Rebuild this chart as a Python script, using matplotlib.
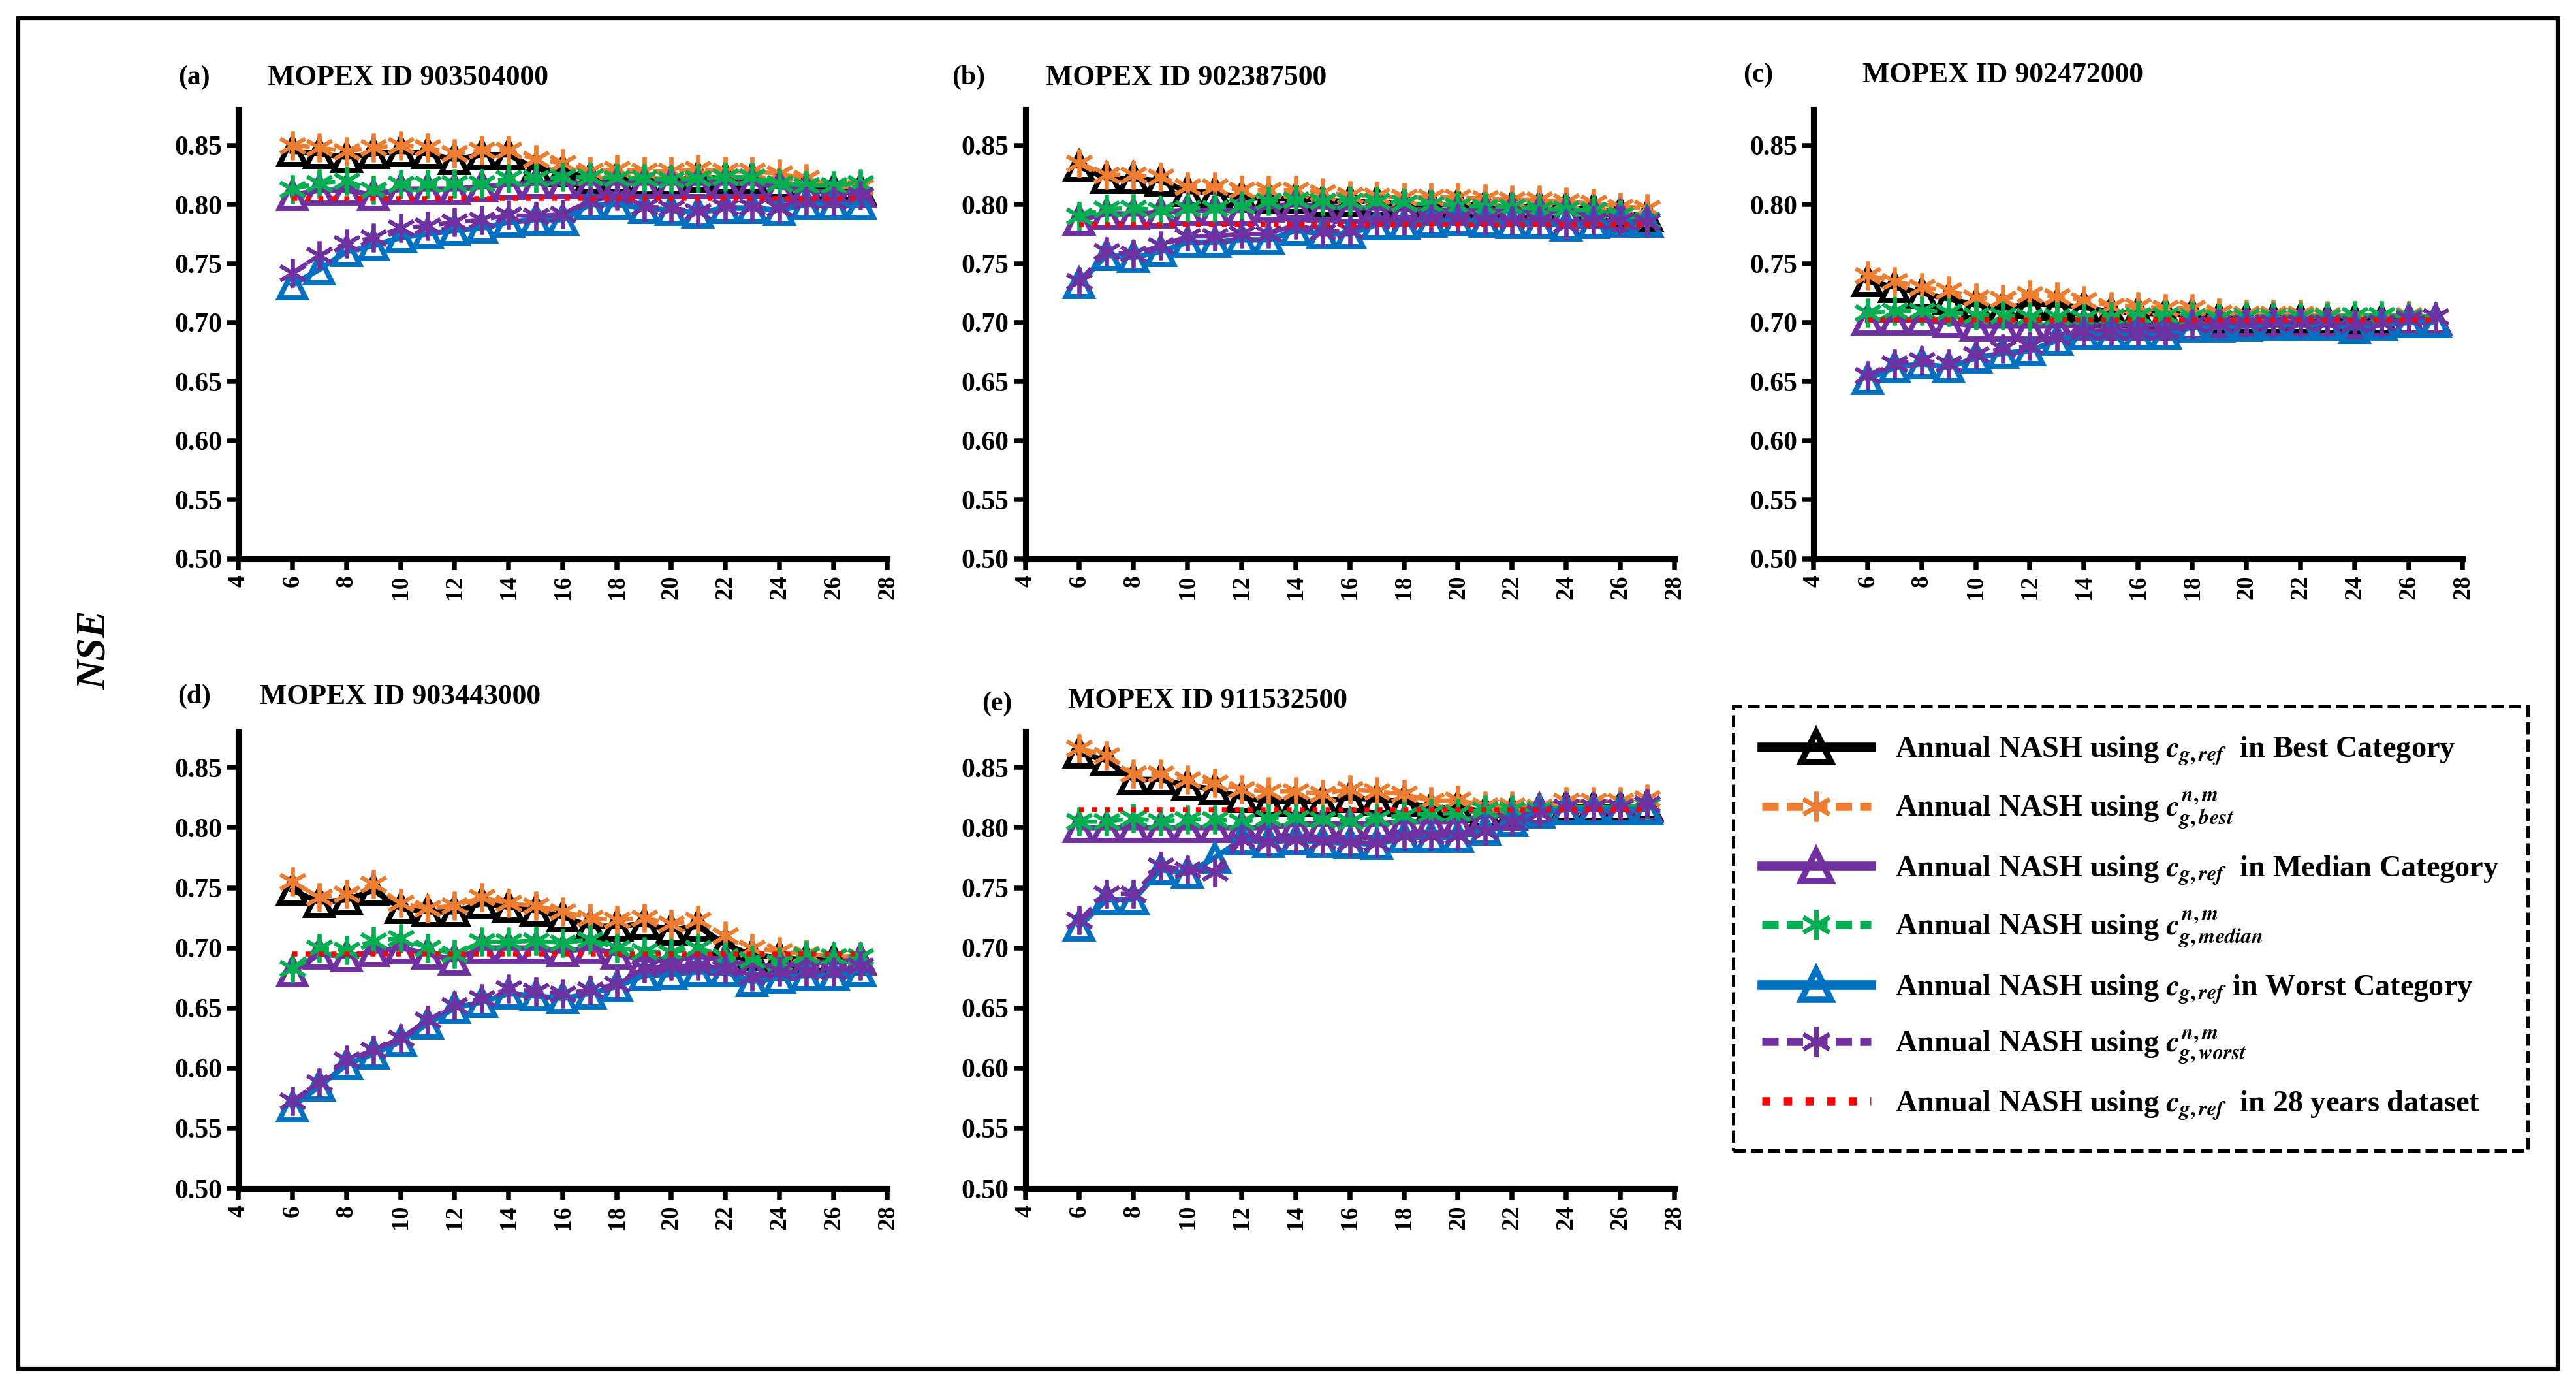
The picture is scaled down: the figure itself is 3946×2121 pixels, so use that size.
"""
Annual NASH (NSE) against number of years used, for five MOPEX catchments.
"""

import matplotlib.pyplot as plt
from matplotlib.lines import Line2D
from matplotlib.patches import Rectangle

plt.rcParams['font.family'] = ['Liberation Serif', 'DejaVu Serif']
plt.rcParams['font.weight'] = 'bold'
plt.rcParams['mathtext.fontset'] = 'stix'

years = list(range(6, 28))

# (a) MOPEX ID 903504000
a_best_ref = [0.845, 0.843, 0.840, 0.843, 0.845, 0.843, 0.838, 0.842, 0.842, 0.830, 0.828,
              0.822, 0.822, 0.820, 0.820, 0.823, 0.822, 0.822, 0.818, 0.815, 0.812, 0.812]
a_best_nm = [0.850, 0.848, 0.845, 0.848, 0.850, 0.848, 0.843, 0.846, 0.846, 0.838, 0.835,
             0.828, 0.830, 0.828, 0.828, 0.830, 0.828, 0.828, 0.826, 0.822, 0.815, 0.815]
a_med_ref = [0.808, 0.812, 0.812, 0.808, 0.813, 0.813, 0.813, 0.815, 0.817, 0.818, 0.818,
             0.818, 0.818, 0.818, 0.818, 0.818, 0.818, 0.818, 0.815, 0.812, 0.810, 0.810]
a_med_nm = [0.813, 0.818, 0.820, 0.812, 0.817, 0.817, 0.818, 0.818, 0.822, 0.822, 0.823,
            0.823, 0.822, 0.822, 0.821, 0.822, 0.823, 0.823, 0.818, 0.816, 0.816, 0.818]
a_worst_ref = [0.732, 0.745, 0.760, 0.765, 0.772, 0.775, 0.778, 0.780, 0.785, 0.787, 0.787,
               0.800, 0.800, 0.797, 0.795, 0.793, 0.797, 0.797, 0.795, 0.800, 0.800, 0.800]
a_worst_nm = [0.742, 0.757, 0.767, 0.772, 0.780, 0.782, 0.785, 0.787, 0.791, 0.790, 0.792,
              0.803, 0.807, 0.798, 0.797, 0.794, 0.798, 0.798, 0.797, 0.803, 0.803, 0.808]
a_full = 0.805

# (b) MOPEX ID 902387500
b_best_ref = [0.832, 0.822, 0.822, 0.820, 0.811, 0.810, 0.806, 0.805, 0.805, 0.803, 0.803,
              0.802, 0.800, 0.800, 0.800, 0.799, 0.798, 0.798, 0.797, 0.796, 0.793, 0.790]
b_best_nm = [0.835, 0.825, 0.825, 0.823, 0.815, 0.815, 0.812, 0.812, 0.812, 0.810, 0.808,
             0.807, 0.806, 0.806, 0.806, 0.805, 0.804, 0.804, 0.802, 0.801, 0.798, 0.797]
b_med_ref = [0.787, 0.792, 0.792, 0.793, 0.795, 0.795, 0.795, 0.798, 0.800, 0.798, 0.797,
             0.797, 0.796, 0.795, 0.795, 0.795, 0.795, 0.794, 0.794, 0.793, 0.790, 0.785]
b_med_nm = [0.790, 0.796, 0.797, 0.795, 0.797, 0.797, 0.799, 0.803, 0.804, 0.803, 0.803,
            0.803, 0.801, 0.800, 0.799, 0.798, 0.798, 0.796, 0.796, 0.795, 0.791, 0.787]
b_worst_ref = [0.733, 0.757, 0.755, 0.760, 0.768, 0.768, 0.770, 0.770, 0.778, 0.775, 0.775,
               0.783, 0.783, 0.785, 0.786, 0.785, 0.784, 0.784, 0.782, 0.784, 0.785, 0.785]
b_worst_nm = [0.735, 0.760, 0.758, 0.765, 0.773, 0.773, 0.775, 0.775, 0.783, 0.777, 0.778,
              0.786, 0.786, 0.788, 0.788, 0.787, 0.786, 0.786, 0.783, 0.786, 0.786, 0.785]
b_full = 0.783

# (c) MOPEX ID 902472000
c_best_ref = [0.735, 0.730, 0.725, 0.720, 0.715, 0.712, 0.716, 0.715, 0.713, 0.709, 0.708,
              0.707, 0.707, 0.704, 0.703, 0.703, 0.703, 0.702, 0.702, 0.702, 0.702, 0.702]
c_best_nm = [0.740, 0.735, 0.730, 0.727, 0.721, 0.720, 0.724, 0.722, 0.719, 0.714, 0.714,
             0.712, 0.712, 0.708, 0.707, 0.707, 0.707, 0.706, 0.706, 0.706, 0.706, 0.705]
c_med_ref = [0.702, 0.702, 0.702, 0.700, 0.697, 0.697, 0.697, 0.697, 0.698, 0.698, 0.698,
             0.698, 0.698, 0.700, 0.700, 0.700, 0.700, 0.700, 0.699, 0.700, 0.702, 0.702]
c_med_nm = [0.708, 0.710, 0.710, 0.709, 0.706, 0.706, 0.705, 0.705, 0.704, 0.705, 0.706,
            0.706, 0.705, 0.704, 0.705, 0.705, 0.705, 0.705, 0.706, 0.706, 0.705, 0.705]
c_worst_ref = [0.652, 0.662, 0.665, 0.662, 0.670, 0.674, 0.676, 0.685, 0.690, 0.690, 0.690,
               0.690, 0.696, 0.696, 0.697, 0.698, 0.698, 0.698, 0.695, 0.698, 0.700, 0.700]
c_worst_nm = [0.655, 0.665, 0.668, 0.665, 0.673, 0.678, 0.680, 0.688, 0.693, 0.693, 0.693,
              0.693, 0.699, 0.699, 0.700, 0.700, 0.700, 0.700, 0.699, 0.700, 0.703, 0.705]
c_full = 0.702

# (d) MOPEX ID 903443000
d_best_ref = [0.748, 0.738, 0.740, 0.748, 0.733, 0.730, 0.730, 0.737, 0.734, 0.731, 0.726,
              0.718, 0.718, 0.720, 0.715, 0.718, 0.703, 0.694, 0.692, 0.690, 0.690, 0.690]
d_best_nm = [0.755, 0.742, 0.745, 0.753, 0.737, 0.733, 0.735, 0.742, 0.737, 0.735, 0.730,
             0.725, 0.723, 0.725, 0.720, 0.723, 0.710, 0.700, 0.697, 0.695, 0.693, 0.693]
d_med_ref = [0.680, 0.695, 0.693, 0.697, 0.700, 0.695, 0.690, 0.700, 0.700, 0.700, 0.697,
             0.700, 0.695, 0.690, 0.690, 0.693, 0.690, 0.685, 0.685, 0.688, 0.688, 0.690]
d_med_nm = [0.683, 0.700, 0.698, 0.706, 0.708, 0.700, 0.695, 0.705, 0.705, 0.706, 0.704,
            0.707, 0.700, 0.697, 0.696, 0.700, 0.693, 0.690, 0.688, 0.694, 0.693, 0.693]
d_worst_ref = [0.568, 0.585, 0.603, 0.612, 0.622, 0.637, 0.650, 0.655, 0.662, 0.660, 0.658,
               0.662, 0.668, 0.677, 0.678, 0.680, 0.680, 0.672, 0.675, 0.677, 0.677, 0.680]
d_worst_nm = [0.573, 0.588, 0.607, 0.615, 0.625, 0.640, 0.652, 0.658, 0.666, 0.664, 0.662,
              0.665, 0.670, 0.683, 0.685, 0.685, 0.683, 0.676, 0.680, 0.680, 0.680, 0.685]
d_full = 0.695

# (e) MOPEX ID 911532500
e_best_ref = [0.862, 0.856, 0.840, 0.840, 0.835, 0.832, 0.825, 0.822, 0.822, 0.822, 0.825,
              0.823, 0.822, 0.816, 0.817, 0.813, 0.813, 0.815, 0.817, 0.817, 0.817, 0.818]
e_best_nm = [0.866, 0.860, 0.845, 0.845, 0.840, 0.837, 0.832, 0.830, 0.830, 0.828, 0.832,
             0.830, 0.828, 0.822, 0.823, 0.818, 0.818, 0.817, 0.822, 0.822, 0.822, 0.824]
e_med_ref = [0.800, 0.800, 0.800, 0.800, 0.800, 0.800, 0.800, 0.800, 0.803, 0.803, 0.803,
             0.803, 0.805, 0.805, 0.805, 0.810, 0.810, 0.815, 0.815, 0.815, 0.815, 0.817]
e_med_nm = [0.805, 0.805, 0.808, 0.805, 0.807, 0.807, 0.805, 0.808, 0.808, 0.807, 0.805,
            0.808, 0.810, 0.812, 0.812, 0.815, 0.815, 0.815, 0.817, 0.817, 0.817, 0.818]
e_worst_ref = [0.718, 0.740, 0.740, 0.765, 0.762, 0.775, 0.790, 0.788, 0.790, 0.788, 0.787,
               0.786, 0.792, 0.792, 0.792, 0.798, 0.805, 0.812, 0.815, 0.815, 0.815, 0.815]
e_worst_nm = [0.723, 0.745, 0.745, 0.768, 0.765, 0.763, 0.790, 0.788, 0.790, 0.789, 0.788,
              0.787, 0.793, 0.793, 0.793, 0.797, 0.805, 0.812, 0.817, 0.817, 0.817, 0.820]
e_full = 0.815

panel_tags = ['(a)', '(b)', '(c)', '(d)', '(e)']
panel_ids = ['MOPEX ID 903504000', 'MOPEX ID 902387500', 'MOPEX ID 902472000',
             'MOPEX ID 903443000', 'MOPEX ID 911532500']

legend_labels = [
    r'Annual NASH using $c_{g,ref}$  in Best Category',
    r'Annual NASH using $c_{g,best}^{n,m}$',
    r'Annual NASH using $c_{g,ref}$  in Median Category',
    r'Annual NASH using $c_{g,median}^{n,m}$',
    r'Annual NASH using $c_{g,ref}$ in Worst Category',
    r'Annual NASH using $c_{g,worst}^{n,m}$',
    r'Annual NASH using $c_{g,ref}$  in 28 years dataset',
]

BLACK = '#000000'
ORANGE = '#ED7D31'
PURPLE = '#7030A0'
GREEN = '#00B050'
BLUE = '#0070C0'
RED = '#FF0000'
ASTER = (6, 2, 0)

# style of each series: colour, linestyle, marker
styles = [
    (BLACK, '-', '^'),
    (ORANGE, '--', ASTER),
    (PURPLE, '-', '^'),
    (GREEN, '--', ASTER),
    (BLUE, '-', '^'),
    (PURPLE, '--', ASTER),
]

# axes rectangles in figure fraction
boxes = [
    [0.0925, 0.5966, 0.252, 0.324],
    [0.398, 0.5966, 0.252, 0.324],
    [0.704, 0.5966, 0.252, 0.324],
    [0.0925, 0.1419, 0.252, 0.330],
    [0.398, 0.1419, 0.252, 0.330],
]
tag_pos = [(0.0753, 0.944), (0.376, 0.944), (0.6824, 0.946), (0.0753, 0.497), (0.387, 0.492)]
id_pos = [(0.104, 0.944), (0.406, 0.944), (0.723, 0.946), (0.1008, 0.497), (0.4145, 0.494)]


def draw_panel(fig, box, series, full):
    ax = fig.add_axes(box)
    # draw in the same order as the legend, worst curves on top
    order = [2, 3, 0, 1, 4, 5]
    for i in order:
        col, ls, mk = styles[i]
        if mk == '^':
            ax.plot(years, series[i], color=col, ls=ls, lw=2.0, marker=mk, ms=9.5,
                    mfc='none', mec=col, mew=1.9, zorder=3 + i)
        else:
            ax.plot(years, series[i], color=col, ls=ls, lw=1.6, marker=mk, ms=10.5,
                    mec=col, mew=1.4, dashes=(4, 2), zorder=3 + i)
    ax.plot([years[0], years[-1]], [full, full], color=RED, ls=':', lw=1.8, zorder=10)
    ax.set_xlim(4, 28)
    ax.set_ylim(0.50, 0.88)
    ax.set_xticks(range(4, 29, 2))
    ax.set_yticks([0.50, 0.55, 0.60, 0.65, 0.70, 0.75, 0.80, 0.85])
    ax.set_yticklabels(['%.2f' % v for v in ax.get_yticks()])
    ax.tick_params(axis='x', rotation=90, labelsize=9, width=1.8, length=4, pad=2)
    ax.tick_params(axis='y', labelsize=10, width=1.8, length=4, pad=2)
    for lab in ax.get_xticklabels() + ax.get_yticklabels():
        lab.set_fontweight('bold')
    ax.spines['top'].set_visible(False)
    ax.spines['right'].set_visible(False)
    ax.spines['left'].set_linewidth(2.2)
    ax.spines['bottom'].set_linewidth(2.2)
    return ax


fig = plt.figure(figsize=(3946 / 300, 2121 / 300), dpi=300)

all_series = [
    ([a_best_ref, a_best_nm, a_med_ref, a_med_nm, a_worst_ref, a_worst_nm], a_full),
    ([b_best_ref, b_best_nm, b_med_ref, b_med_nm, b_worst_ref, b_worst_nm], b_full),
    ([c_best_ref, c_best_nm, c_med_ref, c_med_nm, c_worst_ref, c_worst_nm], c_full),
    ([d_best_ref, d_best_nm, d_med_ref, d_med_nm, d_worst_ref, d_worst_nm], d_full),
    ([e_best_ref, e_best_nm, e_med_ref, e_med_nm, e_worst_ref, e_worst_nm], e_full),
]

for k in range(5):
    draw_panel(fig, boxes[k], all_series[k][0], all_series[k][1])
    fig.text(tag_pos[k][0], tag_pos[k][1], panel_tags[k], fontsize=10, fontweight='bold',
             ha='center', va='center')
    fig.text(id_pos[k][0], id_pos[k][1], panel_ids[k], fontsize=10.5, fontweight='bold',
             ha='left', va='center')

fig.text(0.037, 0.531, 'NSE', fontsize=15, fontweight='bold', fontstyle='italic',
         rotation=90, ha='center', va='center')

# legend with custom handles
handles = []
for col, ls, mk in styles:
    if mk == '^':
        handles.append(Line2D([], [], color=col, ls=ls, lw=3.5, marker=mk, ms=11,
                              mfc='none', mec=col, mew=2.3))
    else:
        handles.append(Line2D([], [], color=col, ls=ls, lw=3.0, marker=mk, ms=11,
                              mec=col, mew=1.6, dashes=(2, 1)))
handles.append(Line2D([], [], color=RED, ls=':', lw=3.0))

leg = fig.legend(handles, legend_labels, loc='upper left', bbox_to_anchor=(0.667, 0.501),
                 fontsize=11.1, handlelength=3.6, labelspacing=0.76, borderpad=0.95,
                 handletextpad=0.8, fancybox=False, edgecolor='black', framealpha=1)
leg.get_frame().set_linestyle('--')
leg.get_frame().set_linewidth(1.2)
for t in leg.get_texts():
    t.set_fontweight('bold')

# outer border of the figure
fig.patches.append(Rectangle((0.007, 0.012), 0.986, 0.975, transform=fig.transFigure,
                             fill=False, edgecolor='black', lw=1.5))

plt.savefig('out.png', dpi=300)
